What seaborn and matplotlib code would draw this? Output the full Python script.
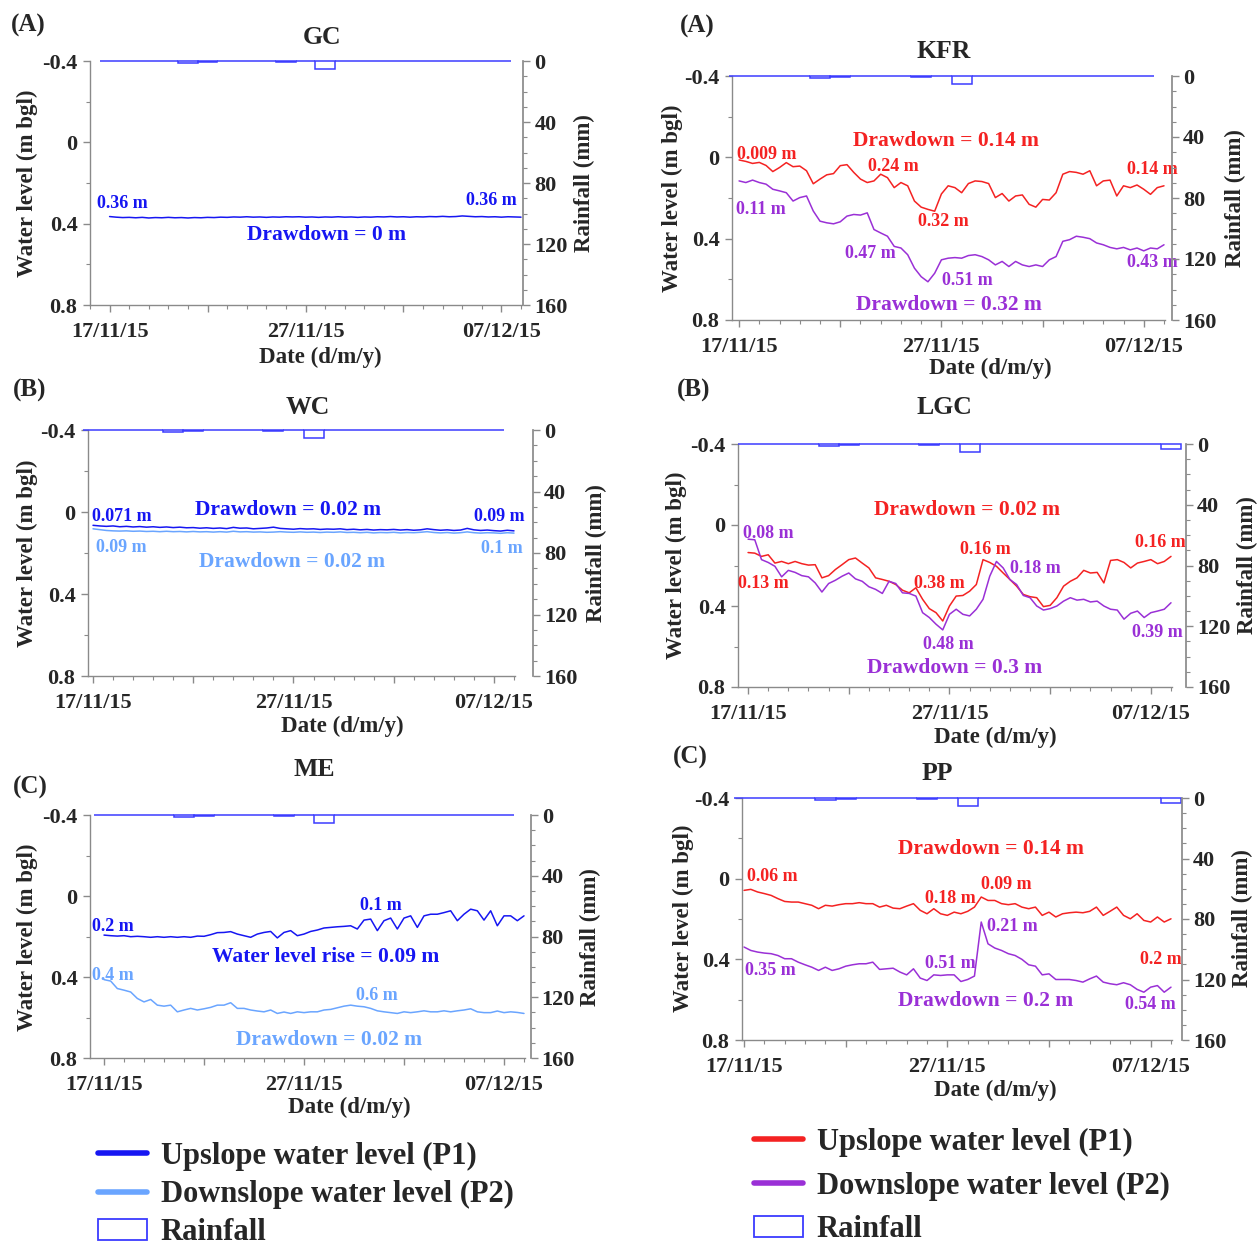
import pandas as pd
import matplotlib
matplotlib.use("Agg")
import matplotlib.pyplot as plt
import matplotlib.dates as mdates
from matplotlib.lines import Line2D
from matplotlib.patches import Patch
from matplotlib.ticker import MultipleLocator
import seaborn as sns

sns.set_theme(style="ticks")
plt.rcParams["font.family"] = ["Liberation Serif", "DejaVu Serif"]
plt.rcParams["font.weight"] = "bold"

W, H = 1258, 1249

# time grid (8-hourly readings) and daily rainfall
start = pd.Timestamp("2015-11-17")
times = pd.date_range(start, periods=64, freq="8h")
rain_days = pd.date_range("2015-11-17", "2015-12-08", freq="D")

rain_short = [0, 0, 0, 0, 1.5, 0.5, 0, 0, 0, 0.5, 0, 5, 0, 0, 0, 0, 0, 0, 0, 0, 0]
rain_long = [0, 0, 0, 0, 1.5, 0.5, 0, 0, 0, 0.5, 0, 5, 0, 0, 0, 0, 0, 0, 0, 0, 0, 3]

# water level (m bgl)
gc_p1 = [0.365, 0.368, 0.370, 0.369, 0.371, 0.369, 0.372, 0.370,
         0.371, 0.369, 0.371, 0.370, 0.372, 0.370, 0.371, 0.369,
         0.370, 0.368, 0.369, 0.367, 0.368, 0.366, 0.368, 0.367,
         0.369, 0.367, 0.368, 0.366, 0.367, 0.366, 0.368, 0.367,
         0.369, 0.367, 0.368, 0.366, 0.368, 0.367, 0.369, 0.367,
         0.368, 0.366, 0.367, 0.365, 0.367, 0.366, 0.368, 0.366,
         0.367, 0.365, 0.366, 0.364, 0.366, 0.365, 0.362, 0.364,
         0.366, 0.365, 0.367, 0.366, 0.368, 0.366, 0.367, 0.368]

wc_p1 = [0.065, 0.068, 0.070, 0.068, 0.072, 0.070, 0.073, 0.071,
         0.074, 0.072, 0.075, 0.073, 0.076, 0.074, 0.077, 0.076,
         0.079, 0.077, 0.080, 0.078, 0.081, 0.075, 0.079, 0.078,
         0.082, 0.080, 0.078, 0.074, 0.080, 0.082, 0.084, 0.081,
         0.083, 0.082, 0.085, 0.083, 0.084, 0.082, 0.086, 0.084,
         0.087, 0.085, 0.088, 0.086, 0.087, 0.085, 0.088, 0.086,
         0.089, 0.087, 0.082, 0.086, 0.089, 0.087, 0.090, 0.088,
         0.080, 0.087, 0.090, 0.088, 0.091, 0.093, 0.089, 0.092]
wc_p2 = [0.082, 0.086, 0.090, 0.092, 0.093, 0.092, 0.094, 0.093,
         0.095, 0.094, 0.096, 0.094, 0.096, 0.095, 0.097, 0.095,
         0.097, 0.096, 0.098, 0.096, 0.098, 0.094, 0.097, 0.096,
         0.098, 0.097, 0.099, 0.098, 0.096, 0.098, 0.099, 0.097,
         0.099, 0.098, 0.100, 0.098, 0.099, 0.097, 0.100, 0.099,
         0.101, 0.099, 0.102, 0.100, 0.101, 0.099, 0.102, 0.100,
         0.101, 0.099, 0.096, 0.100, 0.102, 0.100, 0.103, 0.101,
         0.097, 0.101, 0.103, 0.101, 0.102, 0.104, 0.101, 0.103]

me_p1 = [0.193, 0.196, 0.198, 0.196, 0.201, 0.199, 0.201, 0.204,
         0.201, 0.204, 0.201, 0.204, 0.201, 0.204, 0.198, 0.199,
         0.191, 0.181, 0.180, 0.176, 0.188, 0.196, 0.204, 0.188,
         0.180, 0.175, 0.207, 0.180, 0.171, 0.196, 0.188, 0.175,
         0.168, 0.158, 0.155, 0.152, 0.150, 0.147, 0.163, 0.119,
         0.114, 0.171, 0.122, 0.109, 0.163, 0.109, 0.098, 0.155,
         0.098, 0.090, 0.090, 0.082, 0.073, 0.122, 0.090, 0.065,
         0.073, 0.119, 0.073, 0.147, 0.098, 0.098, 0.122, 0.098]
me_p2 = [0.413, 0.420, 0.457, 0.465, 0.474, 0.506, 0.523, 0.511,
         0.539, 0.544, 0.539, 0.572, 0.563, 0.555, 0.563, 0.557,
         0.550, 0.539, 0.539, 0.527, 0.555, 0.555, 0.563, 0.568,
         0.572, 0.563, 0.580, 0.573, 0.580, 0.572, 0.576, 0.572,
         0.572, 0.563, 0.560, 0.552, 0.544, 0.539, 0.544, 0.547,
         0.555, 0.567, 0.572, 0.576, 0.580, 0.572, 0.576, 0.572,
         0.567, 0.572, 0.572, 0.567, 0.572, 0.567, 0.563, 0.557,
         0.572, 0.576, 0.576, 0.568, 0.576, 0.572, 0.575, 0.580]

kfr_p1 = [0.013, 0.020, 0.030, 0.025, 0.040, 0.070, 0.050, 0.026,
          0.046, 0.043, 0.066, 0.130, 0.107, 0.086, 0.080, 0.041,
          0.036, 0.074, 0.107, 0.124, 0.116, 0.083, 0.100, 0.149,
          0.124, 0.140, 0.215, 0.245, 0.256, 0.265, 0.180, 0.140,
          0.149, 0.174, 0.129, 0.116, 0.119, 0.129, 0.198, 0.178,
          0.215, 0.190, 0.185, 0.231, 0.245, 0.207, 0.210, 0.174,
          0.083, 0.070, 0.074, 0.083, 0.066, 0.140, 0.116, 0.112,
          0.190, 0.140, 0.149, 0.136, 0.157, 0.182, 0.149, 0.140]
kfr_p2 = [0.116, 0.124, 0.112, 0.124, 0.132, 0.157, 0.165, 0.174,
          0.215, 0.198, 0.190, 0.264, 0.314, 0.322, 0.327, 0.317,
          0.289, 0.281, 0.284, 0.273, 0.355, 0.372, 0.388, 0.438,
          0.446, 0.479, 0.545, 0.587, 0.612, 0.570, 0.504, 0.496,
          0.493, 0.496, 0.483, 0.479, 0.488, 0.504, 0.529, 0.512,
          0.537, 0.512, 0.529, 0.537, 0.529, 0.537, 0.504, 0.488,
          0.413, 0.405, 0.388, 0.393, 0.400, 0.421, 0.430, 0.443,
          0.450, 0.443, 0.455, 0.446, 0.460, 0.446, 0.450, 0.430]

lgc_p1 = [0.136, 0.139, 0.155, 0.147, 0.188, 0.180, 0.191, 0.180,
          0.191, 0.198, 0.196, 0.261, 0.250, 0.220, 0.196, 0.171,
          0.163, 0.188, 0.212, 0.261, 0.269, 0.278, 0.294, 0.322,
          0.335, 0.310, 0.367, 0.413, 0.433, 0.474, 0.400, 0.351,
          0.348, 0.327, 0.294, 0.171, 0.185, 0.204, 0.237, 0.269,
          0.302, 0.343, 0.354, 0.359, 0.403, 0.397, 0.359, 0.302,
          0.278, 0.261, 0.224, 0.237, 0.234, 0.286, 0.175, 0.171,
          0.185, 0.212, 0.188, 0.180, 0.171, 0.191, 0.180, 0.155]
lgc_p2 = [0.070, 0.073, 0.171, 0.185, 0.204, 0.256, 0.224, 0.234,
          0.250, 0.256, 0.286, 0.331, 0.289, 0.273, 0.253, 0.237,
          0.266, 0.278, 0.305, 0.318, 0.338, 0.278, 0.289, 0.335,
          0.338, 0.351, 0.433, 0.457, 0.490, 0.518, 0.441, 0.416,
          0.441, 0.449, 0.416, 0.367, 0.253, 0.180, 0.212, 0.269,
          0.294, 0.348, 0.359, 0.400, 0.420, 0.413, 0.400, 0.376,
          0.359, 0.371, 0.367, 0.380, 0.376, 0.400, 0.416, 0.420,
          0.465, 0.436, 0.425, 0.457, 0.433, 0.425, 0.416, 0.384]

pp_p1 = [0.058, 0.053, 0.066, 0.074, 0.083, 0.099, 0.113, 0.116,
         0.116, 0.124, 0.132, 0.149, 0.132, 0.136, 0.129, 0.124,
         0.124, 0.119, 0.124, 0.124, 0.141, 0.132, 0.146, 0.149,
         0.136, 0.124, 0.157, 0.174, 0.149, 0.174, 0.182, 0.166,
         0.174, 0.162, 0.141, 0.091, 0.108, 0.108, 0.124, 0.129,
         0.124, 0.141, 0.149, 0.141, 0.182, 0.166, 0.190, 0.174,
         0.169, 0.166, 0.169, 0.162, 0.141, 0.182, 0.162, 0.141,
         0.182, 0.199, 0.174, 0.207, 0.215, 0.190, 0.215, 0.199]
pp_p2 = [0.339, 0.356, 0.364, 0.369, 0.372, 0.381, 0.397, 0.397,
         0.414, 0.427, 0.439, 0.455, 0.439, 0.455, 0.447, 0.434,
         0.427, 0.422, 0.422, 0.414, 0.450, 0.447, 0.444, 0.463,
         0.477, 0.447, 0.493, 0.505, 0.477, 0.480, 0.477, 0.477,
         0.510, 0.500, 0.483, 0.215, 0.323, 0.344, 0.356, 0.372,
         0.381, 0.400, 0.427, 0.434, 0.477, 0.472, 0.500, 0.500,
         0.500, 0.505, 0.513, 0.497, 0.483, 0.513, 0.521, 0.526,
         0.516, 0.526, 0.549, 0.563, 0.538, 0.530, 0.563, 0.538]

date_ticks = [0, 5, 10, 15, 20]
date_labels = ["17/11/15", "", "27/11/15", "", "07/12/15"]

dark_blue = "#1616f2"
light_blue = "#6aa5ff"
red = "#f42222"
purple = "#9a30d6"
rain_col = "#3c3cff"
spine_col = "#8a8a8a"

BIG, SMALL = 15.5, 13
TICK = 16

panels = [
    dict(name="GC", letter="(A)", box=(90, 522, 61, 305), x0=-1.0, out=1,
         series=[(gc_p1, dark_blue)], rain=rain_short,
         title=(322, 37), let=(28, 25), ylab=(27, 183), rlab=(584, 183), xlab=(320, 357),
         notes=[("0.36 m", 0.63, 0.303, dark_blue, SMALL),
                ("0.36 m", 19.5, 0.284, dark_blue, SMALL),
                ("Drawdown = 0 m", 11.05, 0.456, dark_blue, BIG)]),
    dict(name="WC", letter="(B)", box=(88, 515, 430, 676), x0=-0.25, out=13,
         series=[(wc_p2, light_blue), (wc_p1, dark_blue)], rain=rain_short,
         title=(308, 408), let=(30, 390), ylab=(27, 553), rlab=(596, 553), xlab=(342, 726),
         notes=[("0.071 m", 1.45, 0.02, dark_blue, SMALL),
                ("Drawdown = 0.02 m", 9.73, -0.01, dark_blue, BIG),
                ("0.09 m", 20.25, 0.02, dark_blue, SMALL),
                ("0.09 m", 1.4, 0.171, light_blue, SMALL),
                ("Drawdown = 0.02 m", 9.92, 0.244, light_blue, BIG),
                ("0.1 m", 20.4, 0.176, light_blue, SMALL)]),
    dict(name="ME", letter="(C)", box=(90, 525, 815, 1058), x0=-0.7, out=4,
         series=[(me_p1, dark_blue), (me_p2, light_blue)], rain=rain_short,
         title=(314, 769), let=(30, 787), ylab=(27, 937), rlab=(590, 937), xlab=(349, 1107),
         notes=[("0.2 m", 0.45, 0.153, dark_blue, SMALL),
                ("0.1 m", 13.85, 0.049, dark_blue, SMALL),
                ("Water level rise = 0.09 m", 11.1, 0.301, dark_blue, BIG),
                ("0.4 m", 0.45, 0.395, light_blue, SMALL),
                ("0.6 m", 13.65, 0.489, light_blue, SMALL),
                ("Drawdown = 0.02 m", 11.25, 0.711, light_blue, BIG)]),
    dict(name="KFR", letter="(A)", box=(732, 1165, 76, 320), x0=-0.35, out=5,
         series=[(kfr_p1, red), (kfr_p2, purple)], rain=rain_short,
         title=(944, 51), let=(697, 26), ylab=(672, 198), rlab=(1235, 198), xlab=(990, 368),
         notes=[("Drawdown = 0.14 m", 10.23, -0.08, red, BIG),
                ("0.009 m", 1.38, -0.016, red, SMALL),
                ("0.24 m", 7.61, 0.043, red, SMALL),
                ("0.14 m", 20.41, 0.062, red, SMALL),
                ("0.32 m", 10.08, 0.318, red, SMALL),
                ("0.11 m", 1.08, 0.259, purple, SMALL),
                ("0.47 m", 6.47, 0.475, purple, SMALL),
                ("0.51 m", 11.27, 0.608, purple, SMALL),
                ("0.43 m", 20.41, 0.515, purple, SMALL),
                ("Drawdown = 0.32 m", 10.38, 0.726, purple, BIG)]),
    dict(name="LGC", letter="(B)", box=(738, 1172, 444, 687), x0=-0.5, out=10,
         series=[(lgc_p1, red), (lgc_p2, purple)], rain=rain_long,
         title=(944, 408), let=(694, 390), ylab=(676, 565), rlab=(1247, 565), xlab=(995, 737),
         notes=[("Drawdown = 0.02 m", 10.87, -0.074, red, BIG),
                ("0.08 m", 1.0, 0.044, purple, SMALL),
                ("0.13 m", 0.74, 0.291, red, SMALL),
                ("0.38 m", 9.48, 0.291, red, SMALL),
                ("0.16 m", 11.76, 0.123, red, SMALL),
                ("0.18 m", 14.25, 0.217, purple, SMALL),
                ("0.16 m", 20.45, 0.084, red, SMALL),
                ("0.48 m", 9.93, 0.588, purple, SMALL),
                ("0.39 m", 20.3, 0.533, purple, SMALL),
                ("Drawdown = 0.3 m", 10.27, 0.706, purple, BIG)]),
    dict(name="PP", letter="(C)", box=(742, 1172, 798, 1040), x0=-0.1, out=7,
         series=[(pp_p1, red), (pp_p2, purple)], rain=rain_long,
         title=(937, 773), let=(690, 757), ylab=(683, 918), rlab=(1242, 918), xlab=(995, 1090),
         notes=[("Drawdown = 0.14 m", 12.15, -0.147, red, BIG),
                ("0.06 m", 1.38, -0.013, red, SMALL),
                ("0.18 m", 10.13, 0.096, red, SMALL),
                ("0.09 m", 12.89, 0.031, red, SMALL),
                ("0.2 m", 20.51, 0.403, red, SMALL),
                ("0.21 m", 13.18, 0.235, purple, SMALL),
                ("0.35 m", 1.28, 0.453, purple, SMALL),
                ("0.51 m", 10.13, 0.423, purple, SMALL),
                ("Drawdown = 0.2 m", 11.9, 0.606, purple, BIG),
                ("0.54 m", 19.97, 0.626, purple, SMALL)]),
]

fig = plt.figure(figsize=(W / 100, H / 100), dpi=100)


def ftext(x, y, s, **kw):
    kw.setdefault("ha", "center")
    kw.setdefault("va", "center")
    fig.text(x / W, 1 - y / H, s, **kw)


def day(d):
    return mdates.date2num(start + pd.Timedelta(days=d))


for p in panels:
    l, r, t, b = p["box"]
    ax = fig.add_axes([l / W, 1 - b / H, (r - l) / W, (b - t) / H])
    for vals, col in p["series"]:
        sns.lineplot(x=times[:len(vals)], y=vals, ax=ax, color=col, lw=1.1, legend=False)
    ax.set_xlim(day(p["x0"]), day(21.05))
    ax.set_ylim(0.8, -0.4)
    ax.set_yticks([-0.4, 0, 0.4, 0.8], ["-0.4", "0", "0.4", "0.8"])
    ax.yaxis.set_minor_locator(MultipleLocator(0.2))
    ax.set_xticks([day(d) for d in date_ticks], date_labels)
    ax.xaxis.set_minor_locator(mdates.DayLocator())
    ax.set_xlabel("")
    ax.set_ylabel("")
    for s in ("top", "right"):
        ax.spines[s].set_visible(False)
    for s in ("left", "bottom"):
        ax.spines[s].set_color(spine_col)
        ax.spines[s].set_linewidth(1)
    ax.tick_params(which="major", length=5, width=1, color=spine_col, labelsize=TICK)
    ax.tick_params(axis="x", which="major", pad=7)
    ax.tick_params(axis="y", which="major", pad=4)
    ax.tick_params(which="minor", length=3, width=0.8, color=spine_col)

    ax2 = ax.twinx()
    ax2.bar(rain_days[:len(p["rain"])], p["rain"], width=1.0, fill=False,
            edgecolor=rain_col, lw=1.1, clip_on=False)
    ax2.set_ylim(160, 0)
    ax2.set_yticks([0, 40, 80, 120, 160])
    ax2.yaxis.set_minor_locator(MultipleLocator(10))
    for s in ("top", "left", "bottom"):
        ax2.spines[s].set_visible(False)
    ax2.spines["right"].set_color(spine_col)
    ax2.spines["right"].set_position(("outward", p["out"]))
    ax2.tick_params(which="major", length=5, width=1, color=spine_col, labelsize=TICK, pad=3)
    ax2.tick_params(which="minor", length=3, width=0.8, color=spine_col)

    for txt, d, v, col, fs in p["notes"]:
        ax.text(day(d), v, txt, color=col, fontsize=fs, ha="center", va="center")

    ftext(*p["title"], p["name"], fontsize=18.5)
    ftext(*p["let"], p["letter"], fontsize=18)
    ftext(*p["ylab"], "Water level (m bgl)", fontsize=16.5, rotation=90)
    ftext(*p["rlab"], "Rainfall (mm)", fontsize=16.5, rotation=90)
    ftext(*p["xlab"], "Date (d/m/y)", fontsize=16.5)

left_handles = [Line2D([], [], color=dark_blue, lw=4),
                Line2D([], [], color=light_blue, lw=4),
                Patch(fill=False, edgecolor=rain_col, lw=1.3)]
right_handles = [Line2D([], [], color=red, lw=4),
                 Line2D([], [], color=purple, lw=4),
                 Patch(fill=False, edgecolor=rain_col, lw=1.3)]
labels = ["Upslope water level (P1)", "Downslope water level (P2)", "Rainfall"]

fig.legend(left_handles, labels, loc="upper left", bbox_to_anchor=(98 / W, 1 - 1142 / H),
           frameon=False, fontsize=22, handlelength=1.6, handletextpad=0.45,
           labelspacing=0.3, borderaxespad=0, borderpad=0)
fig.legend(right_handles, labels, loc="upper left", bbox_to_anchor=(754 / W, 1 - 1128 / H),
           frameon=False, fontsize=22, handlelength=1.6, handletextpad=0.45,
           labelspacing=0.48, borderaxespad=0, borderpad=0)

fig.savefig("out.png", dpi=100)
